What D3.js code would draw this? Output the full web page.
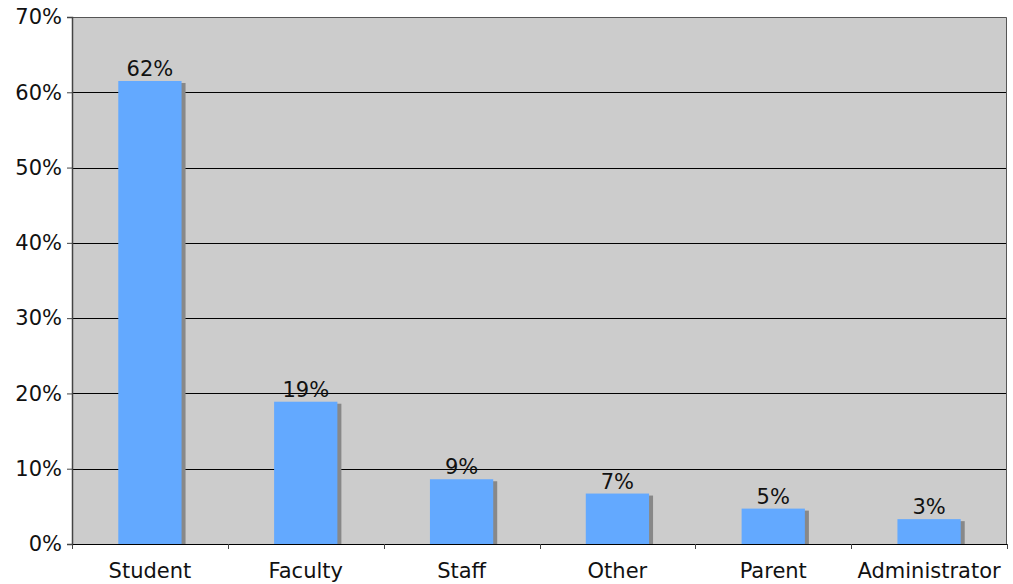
<!DOCTYPE html>
<html>
<head>
<meta charset="utf-8">
<script src="https://cdn.jsdelivr.net/npm/d3@7"></script>
<style>
  body { margin: 0; background: #fff; }
  text { font-family: "DejaVu Sans", Verdana, sans-serif; fill: #111; }
</style>
</head>
<body>
<svg id="chart" width="1013" height="584"></svg>
<script>
// ------- data -------
var categories = ["Student", "Faculty", "Staff", "Other", "Parent", "Administrator"];
var values = [61.5, 18.9, 8.6, 6.7, 4.7, 3.3];
var valueLabels = ["62%", "19%", "9%", "7%", "5%", "3%"];
var yTicks = [0, 10, 20, 30, 40, 50, 60, 70];

// ------- layout -------
var width = 1013;
var height = 584;
var margin = { top: 17, right: 6, bottom: 40, left: 72 };
var plotW = width - margin.left - margin.right;
var plotH = height - margin.top - margin.bottom;

var svg = d3.select("#chart");
var g = svg.append("g")
    .attr("transform", "translate(" + margin.left + "," + margin.top + ")");

var x = d3.scaleBand().domain(categories).range([0, plotW]).padding(0);
var y = d3.scaleLinear().domain([0, 70]).range([plotH, 0]);

var barW = x.bandwidth() * 0.406;

// plot background
g.append("rect")
    .attr("width", plotW)
    .attr("height", plotH)
    .attr("fill", "#cccccc");

// gridlines
g.selectAll(".grid")
    .data(yTicks.filter(function (d) { return d > 0 && d < 70; }))
    .enter()
    .append("line")
    .attr("x1", 0)
    .attr("x2", plotW)
    .attr("y1", function (d) { return Math.round(y(d)) + 0.5; })
    .attr("y2", function (d) { return Math.round(y(d)) + 0.5; })
    .attr("stroke", "#000")
    .attr("stroke-width", 1);

// frame top + right
g.append("path")
    .attr("d", "M0," + (Math.round(y(70)) + 0.5) + "H" + (plotW - 0.5) + "V" + plotH)
    .attr("fill", "none")
    .attr("stroke", "#555")
    .attr("stroke-width", 1);

// bars with shadow
var bars = g.selectAll(".bar")
    .data(categories)
    .enter()
    .append("g")
    .attr("class", "bar");

bars.append("rect")
    .attr("x", function (d) { return x(d) + (x.bandwidth() - barW) / 2 + 4; })
    .attr("y", function (d, i) { return y(values[i]) + 2; })
    .attr("width", barW)
    .attr("height", function (d, i) { return plotH - y(values[i]) - 2; })
    .attr("fill", "#888888");

bars.append("rect")
    .attr("x", function (d) { return x(d) + (x.bandwidth() - barW) / 2; })
    .attr("y", function (d, i) { return y(values[i]); })
    .attr("width", barW)
    .attr("height", function (d, i) { return plotH - y(values[i]); })
    .attr("fill", "#63a9ff");

bars.append("text")
    .attr("x", function (d) { return x(d) + x.bandwidth() / 2; })
    .attr("y", function (d, i) { return y(values[i]) - 5; })
    .attr("text-anchor", "middle")
    .style("font-size", "21px")
    .text(function (d, i) { return valueLabels[i]; });

// y axis
var yAxis = d3.axisLeft(y)
    .tickValues(yTicks)
    .tickSize(5)
    .tickPadding(5)
    .tickFormat(function (d) { return d + "%"; });

var ya = g.append("g").call(yAxis);
ya.select(".domain").attr("stroke", "#444").attr("stroke-width", 1.5);
ya.selectAll(".tick line").attr("stroke", "#444");
ya.selectAll("text").style("font-size", "21px").attr("fill", "#111");

// x axis: ticks at category boundaries
var xa = g.append("g").attr("transform", "translate(0," + plotH + ")");
xa.append("line")
    .attr("x1", 0).attr("x2", plotW)
    .attr("y1", 0.5).attr("y2", 0.5)
    .attr("stroke", "#000");
xa.selectAll(".xtick")
    .data(categories.concat(["end"]))
    .enter()
    .append("line")
    .attr("x1", function (d, i) { return Math.round(i * x.step()) + 0.5; })
    .attr("x2", function (d, i) { return Math.round(i * x.step()) + 0.5; })
    .attr("y1", 0)
    .attr("y2", 5)
    .attr("stroke", "#444");
xa.selectAll(".xlabel")
    .data(categories)
    .enter()
    .append("text")
    .attr("x", function (d) { return x(d) + x.bandwidth() / 2; })
    .attr("y", 34)
    .attr("text-anchor", "middle")
    .style("font-size", "21px")
    .text(function (d) { return d; });
</script>
</body>
</html>
